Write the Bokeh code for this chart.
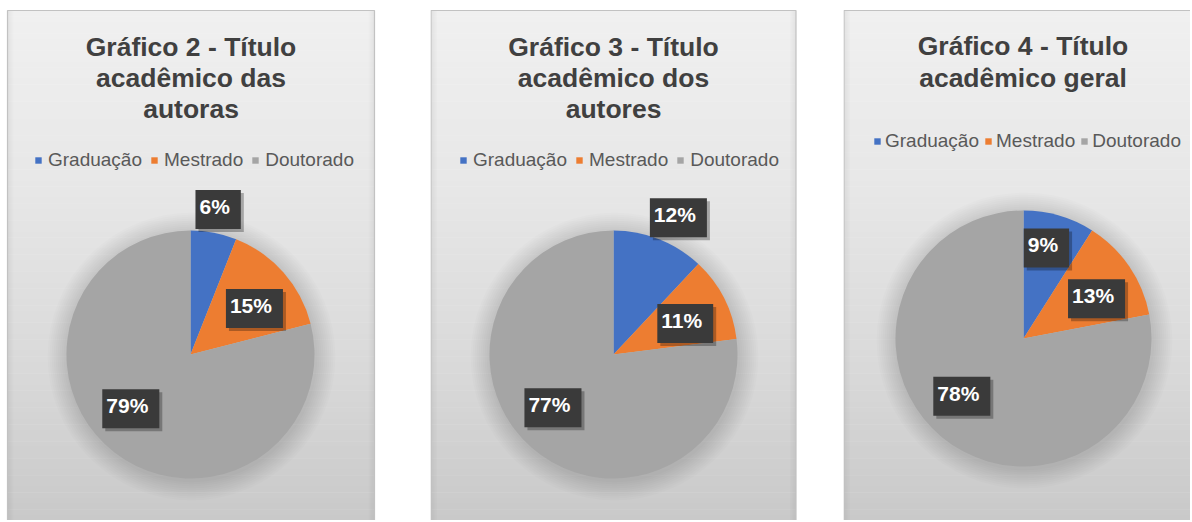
import math
from bokeh.plotting import figure
from bokeh.models import ColumnDataSource, Range1d, Legend, LegendItem
from bokeh.layouts import row
from bokeh.core.properties import value
from bokeh.embed import file_html
from bokeh.resources import INLINE

# ---------------- data ----------------
categories = ["Graduação", "Mestrado", "Doutorado"]
colors = ["#4472C4", "#ED7D31", "#A5A5A5"]

title_autoras = ["Gráfico 2 - Título", "acadêmico das", "autoras"]
title_autores = ["Gráfico 3 - Título", "acadêmico dos", "autores"]
title_geral = ["Gráfico 4 - Título", "acadêmico geral"]

values_autoras = [6, 15, 79]
values_autores = [12, 11, 77]
values_geral = [9, 13, 78]

# ---------------- layout / style ----------------
H = 520
FONT = "Liberation Sans"


def lerp_color(c1, c2, t):
    a = [int(c1[i:i + 2], 16) for i in (1, 3, 5)]
    b = [int(c2[i:i + 2], 16) for i in (1, 3, 5)]
    return "#%02x%02x%02x" % tuple(round(a[k] + (b[k] - a[k]) * t) for k in range(3))


def gradient(frac):
    stops = [(0.0, "#f0f0f0"), (0.35, "#e7e7e7"), (0.7, "#d9d9d9"), (1.0, "#c9c9c9")]
    for (f1, c1), (f2, c2) in zip(stops[:-1], stops[1:]):
        if frac <= f2:
            return lerp_color(c1, c2, (frac - f1) / (f2 - f1))
    return stops[-1][1]


def make_panel(width, panel_left, panel_right, title_lines, vals, cx, cy, r, title_x,
               title_base, title_step, legend_loc, legend_standoff, legend_spacing,
               label_dist, label_nudge):
    p = figure(width=width, height=H, x_range=Range1d(0, width), y_range=Range1d(0, H),
               x_axis_type=None, y_axis_type=None, toolbar_location=None,
               output_backend="svg", min_border=0, outline_line_color=None,
               background_fill_color="white", border_fill_color="white")
    p.grid.visible = False

    panel_top = H - 10
    # background gradient (decoration)
    n = 90
    lefts, rights, bottoms, tops, cols = [], [], [], [], []
    for i in range(n):
        lefts.append(panel_left)
        rights.append(panel_right)
        tops.append(panel_top - panel_top * i / n)
        bottoms.append(panel_top - panel_top * (i + 1) / n - 0.5)
        cols.append(gradient((i + 0.5) / n))
    p.quad(left=lefts, right=rights, top=tops, bottom=bottoms, fill_color=cols, line_color=None)
    # darker side edges
    for k in range(6):
        a = 0.05 - 0.008 * k
        p.quad(left=[panel_left + k], right=[panel_left + 1 + k], top=[panel_top], bottom=[0],
               fill_color="black", fill_alpha=a, line_color=None)
        p.quad(left=[panel_right - 1 - k], right=[panel_right - k], top=[panel_top], bottom=[0],
               fill_color="black", fill_alpha=a, line_color=None)
    p.quad(left=[panel_left], right=[panel_right], top=[panel_top], bottom=[-5],
           fill_color=None, line_color="#c2c2c2", line_width=1.2)

    # title
    p.text(x=[title_x] * len(title_lines),
           y=[title_base - i * title_step for i in range(len(title_lines))],
           text=title_lines, text_align="center", text_baseline="alphabetic",
           text_font=value(FONT), text_font_style="bold", text_font_size="26.5px",
           text_color="#404040")

    # soft shadow around the pie
    for k in range(1, 11):
        p.circle(x=[cx + 1], y=[cy - 2], radius=r + 2 * k, fill_color="black",
                 fill_alpha=0.012, line_color=None)

    # pie
    total = float(sum(vals))
    cum = [0.0]
    for v in vals:
        cum.append(cum[-1] + v / total)
    start = [math.pi / 2 - 2 * math.pi * cum[i] for i in range(len(vals))]
    end = [math.pi / 2 - 2 * math.pi * cum[i + 1] for i in range(len(vals))]
    src = ColumnDataSource(dict(cat=categories, val=vals, start=start, end=end, color=colors))
    wr = p.wedge(x=cx, y=cy, radius=r, start_angle="start", end_angle="end",
                 direction="clock", fill_color="color", line_color=None, source=src)

    # data labels (placed along each slice's mid-angle)
    lx, ly, lt = [], [], []
    for i, v in enumerate(vals):
        mid = (cum[i] + cum[i + 1]) / 2 * 360 + label_nudge[i]
        ang = math.radians(90 - mid)
        d = label_dist[i] * r
        lx.append(cx + d * math.cos(ang))
        ly.append(cy + d * math.sin(ang))
        lt.append("%d%%" % v)
    pad = (4, 11, 5, 11)
    p.text(x=lx, y=ly, text=lt, x_offset=3, y_offset=3, text_align="center",
           text_baseline="middle", text_font=value(FONT), text_font_style="bold",
           text_font_size="21px", text_alpha=0, background_fill_color="black",
           background_fill_alpha=0.28, padding=pad)
    p.text(x=lx, y=ly, text=lt, text_align="center", text_baseline="middle",
           text_font=value(FONT), text_font_style="bold", text_font_size="21px",
           text_color="white", background_fill_color="#3a3a3a", padding=pad)

    # legend
    items = [LegendItem(label=c, renderers=[wr], index=i) for i, c in enumerate(categories)]
    leg = Legend(items=items, orientation="horizontal", location=legend_loc,
                 glyph_width=8, glyph_height=8, label_standoff=legend_standoff,
                 spacing=legend_spacing, padding=0, margin=0,
                 background_fill_alpha=0, border_line_alpha=0,
                 label_text_font=FONT, label_text_font_size="19px",
                 label_text_color="#595959")
    p.add_layout(leg)
    return p


p1 = make_panel(430, 7, 374, title_autoras, values_autoras, cx=190, cy=166, r=124,
                title_x=190.5, title_base=474, title_step=31, legend_loc=(34, 349),
                legend_standoff=6, legend_spacing=8,
                label_dist=[1.19, 0.635, 0.65], label_nudge=[0, 5.7, 10])
p2 = make_panel(413, 0.5, 365.5, title_autores, values_autores, cx=183, cy=166, r=124,
                title_x=183, title_base=474, title_step=31, legend_loc=(29, 349),
                legend_standoff=6, legend_spacing=8,
                label_dist=[1.22, 0.63, 0.65], label_nudge=[3.8, 3.7, 7.3])
p3 = make_panel(347, 0.5, 370, title_geral, values_geral, cx=180, cy=182, r=128,
                title_x=179.5, title_base=475, title_step=32, legend_loc=(30, 368),
                legend_standoff=4, legend_spacing=5,
                label_dist=[0.73, 0.65, 0.66], label_nudge=[-2, 5.6, 7.3])

layout = row(p1, p2, p3)

open("out.html", "w").write(file_html(layout, INLINE))
